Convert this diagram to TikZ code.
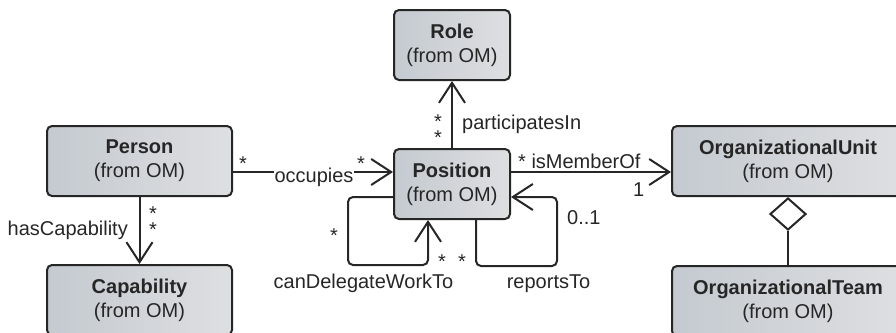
\documentclass[tikz,border=0pt]{standalone}
\usepackage{fontspec}
\setmainfont{Liberation Sans}
\usetikzlibrary{arrows.meta,shapes.geometric}
\definecolor{boxL}{RGB}{196,202,208}
\definecolor{boxR}{RGB}{222,223,225}
\definecolor{ink}{RGB}{38,38,38}
\tikzset{
 cls/.style={draw=ink, line width=2pt, rounded corners=5pt, left color=boxL, right color=boxR,
   minimum height=70pt, align=center, inner sep=0pt, text=ink, font=\fontsize{20}{24}\selectfont},
 assoc/.style={draw=ink, line width=2pt, rounded corners=5pt, -{Straight Barb[length=20pt,width=26pt]}},
 plainln/.style={draw=ink, line width=2pt},
 lbl/.style={font=\fontsize{20}{24}\selectfont, text=ink, inner sep=0pt},
 mult/.style={lbl, anchor=base},
 stack/.style={lbl, align=center, font=\fontsize{20}{16}\selectfont, anchor=base},
}
\begin{document}
\begin{tikzpicture}[x=1pt,y=-1pt]
\useasboundingbox (0,0) rectangle (896,332);
\clip (0,0) rectangle (896,332);
% classes
\node[cls, minimum width=116pt] (Role) at (452,45) {\textbf{Role}\\(from OM)};
\node[cls, minimum width=116pt] (Position) at (452,184) {\textbf{Position}\\(from OM)};
\node[cls, minimum width=185pt] (Person) at (139.5,161) {\textbf{Person}\\(from OM)};
\node[cls, minimum width=185pt] (Capability) at (139.5,300) {\textbf{Capability}\\(from OM)};
\node[cls, minimum width=232pt] (OrgUnit) at (788,161) {\textbf{OrganizationalUnit}\\(from OM)};
\node[cls, minimum width=232pt] (OrgTeam) at (788,301) {\textbf{OrganizationalTeam}\\(from OM)};
% occupies
\draw[assoc] ([yshift=-11pt]Person.east) -- ([yshift=-11pt]Person.east -| Position.west);
\node[lbl, anchor=base, fill=white, inner xsep=1pt] (occ) at (314,182) {occupies};
\node[mult] (m1) at (243,170.5) {*};
\node[mult] (m2) at (361,170.5) {*};
% hasCapability
\draw[assoc] (Person.south) -- (Capability.north);
\node[lbl, anchor=base east] (hc) at (128,235) {hasCapability};
\node[stack, anchor=north] (m3) at (153,207) {*\\*};
% participatesIn
\draw[assoc] (Position.north) -- (Role.south);
\node[lbl, anchor=base west] (pi) at (462,129) {participatesIn};
\node[stack, anchor=north] (m5) at (438,114.5) {*\\*};
% isMemberOf
\draw[assoc] ([yshift=12pt]Position.east) -- ([yshift=12pt]Position.east -| OrgUnit.west);
\node[lbl, anchor=base west] (im) at (518,168) {* isMemberOf};
\node[lbl, anchor=base west] (m7) at (633,196) {1};
% canDelegateWorkTo
\coordinate (dA) at ([xshift=-24pt]Position.south);
\draw[assoc] ([yshift=-13pt]Position.west) -- ++(-45pt,0) -- ++(0,-68pt) -| (dA);
\node[lbl, anchor=base] (cd) at (363.5,288) {canDelegateWorkTo};
\node[mult] (m8) at (334,242.5) {*};
\node[mult] (m9) at (442,268.5) {*};
% reportsTo
\draw[assoc] ([xshift=24pt]Position.south) -- ++(0,-46pt) -- ++(81pt,0) |- ([yshift=-13pt]Position.east);
\node[lbl, anchor=base] (rt) at (548.5,288) {reportsTo};
\node[mult] (m10) at (462,268.5) {*};
\node[lbl, anchor=base west] (m11) at (567,224) {0..1};
% aggregation
\node[diamond, draw=ink, line width=2pt, fill=white, minimum width=36pt, minimum height=32pt, inner sep=0pt, anchor=north] (agg) at (OrgUnit.south) {};
\draw[plainln] (agg.south) -- (OrgTeam.north);
\end{tikzpicture}
\end{document}
